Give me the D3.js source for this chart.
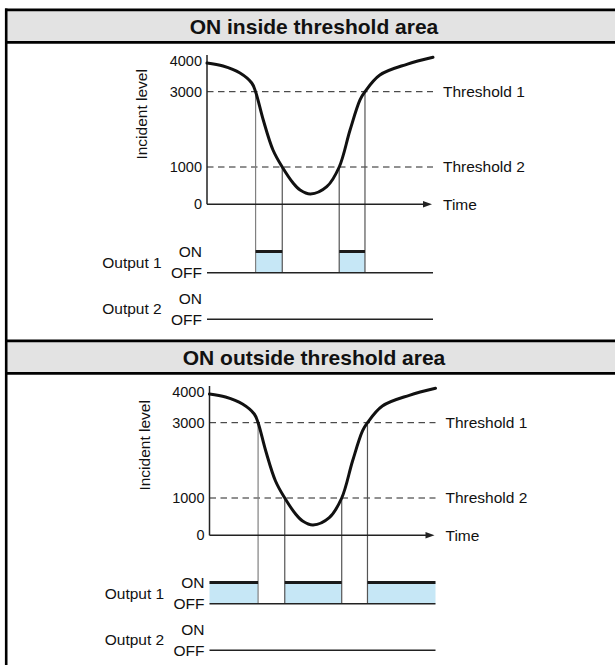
<!DOCTYPE html>
<html><head><meta charset="utf-8">
<script src="https://cdn.jsdelivr.net/npm/d3@7"></script>
<style>
body{margin:0;background:#fff}
svg{display:block}
text{font-family:"Liberation Sans",Arial,Helvetica,sans-serif;fill:#111}
</style></head>
<body>
<script>
// ---- data ----
const panelTitles = ["ON inside threshold area", "ON outside threshold area"];
const yTickValues = [0, 1000, 3000, 4000];
const yTickLabels = ["0", "1000", "3000", "4000"];
const yAxisMax = 4195;
const thresholdValues = [3000, 1000];
const thresholdLabels = ["Threshold 1", "Threshold 2"];
const timeValues  = [0, 7.1, 14.6, 19.8, 21.5, 24.9, 29.2, 33.3, 38.1, 41.2, 45.8, 53.0, 58.5, 63.3, 67.7, 69.9, 76.5, 88.4, 100];
const levelValues = [3935, 3837, 3609, 3283, 3000, 2248, 1452, 1000, 571, 383, 276, 472, 1000, 1983, 2780, 3000, 3544, 3892, 4120];
const crossingTimes  = [21.5, 33.3, 58.5, 69.9];
const crossingLevels = [3000, 1000, 1000, 3000];
const output1On = [
  [[21.5, 33.3], [58.5, 69.9]],
  [[0, 21.5], [33.3, 58.5], [69.9, 100]]
];
const output2On = [[], []];
const outputNames = ["Output 1", "Output 2"];
const stateLabels = ["ON", "OFF"];
const axisLabelY = "Incident level";
const axisLabelX = "Time";

// ---- drawing ----
const W = 615, H = 665;
const svg = d3.select("body").append("svg").attr("width", W).attr("height", H);

const x = d3.scaleLinear().domain([0, 100]).range([207, 433]);
const y = d3.scaleLinear().domain([0, 1000, 3000, 4000]).range([204.3, 167, 91.7, 61]);
// output rows: state 0 = OFF, 1 = ON
const rowY = (row, state) => d3.scaleLinear().domain([0, 1]).range([272.7, 251.5])(state) + row * 46.6;

const panelOffsets = [[0, 0], [2.5, 331]];
const panelOffsetsY = [0, 331];

// frame
panelOffsetsY.forEach((oy, i) => {
  svg.append("rect").attr("x", 6).attr("y", 11 + oy).attr("width", W).attr("height", 30.5).attr("fill", "#e3e3e3");
  svg.append("line").attr("x1", 5).attr("x2", W).attr("y1", 9.8 + oy).attr("y2", 9.8 + oy).attr("stroke", "#000").attr("stroke-width", 2.8);
  svg.append("line").attr("x1", 5).attr("x2", W).attr("y1", 42.4 + oy).attr("y2", 42.4 + oy).attr("stroke", "#000").attr("stroke-width", 2.8);
  svg.append("text").attr("x", 314).attr("y", 33.8 + oy).attr("text-anchor", "middle")
    .attr("font-size", 21).attr("font-weight", "bold").text(panelTitles[i]);
});
svg.append("line").attr("x1", 6.2).attr("x2", 6.2).attr("y1", 8.5).attr("y2", H).attr("stroke", "#000").attr("stroke-width", 2.6);

const line = d3.line().x(d => x(d[0])).y(d => y(d[1])).curve(d3.curveCatmullRom.alpha(0.5));
const curveData = timeValues.map((t, i) => [t, levelValues[i]]);

panelTitles.forEach((title, p) => {
  const g = svg.append("g").attr("transform", `translate(${panelOffsets[p][0]},${panelOffsets[p][1]})`);

  // output 1 blue fills
  output1On[p].forEach(iv => {
    g.append("rect").attr("x", x(iv[0])).attr("width", x(iv[1]) - x(iv[0]))
      .attr("y", rowY(0, 1)).attr("height", rowY(0, 0) - rowY(0, 1))
      .attr("fill", "#c6e7f6");
  });

  // threshold dashed lines
  thresholdValues.forEach((v, i) => {
    g.append("line").attr("x1", x(0)).attr("x2", x(100)).attr("y1", y(v)).attr("y2", y(v))
      .attr("stroke", "#222").attr("stroke-width", 1).attr("stroke-dasharray", "6.5,4.5");
    g.append("text").attr("x", x(100) + 10).attr("y", y(v)).attr("dy", "0.35em")
      .attr("font-size", 15.5).text(thresholdLabels[i]);
  });

  // vertical crossing lines
  crossingTimes.forEach((t, i) => {
    g.append("line").attr("x1", x(t)).attr("x2", x(t)).attr("y1", y(crossingLevels[i])).attr("y2", rowY(0, 0))
      .attr("stroke", i === 0 ? "#808080" : "#555").attr("stroke-width", 1.2);
  });

  // axes
  g.append("line").attr("x1", x(0)).attr("x2", x(0)).attr("y1", y(yAxisMax)).attr("y2", y(0))
    .attr("stroke", "#222").attr("stroke-width", 1.5);
  g.append("line").attr("x1", x(0)).attr("x2", x(100) - 6).attr("y1", y(0)).attr("y2", y(0))
    .attr("stroke", "#222").attr("stroke-width", 1.5);
  g.append("path").attr("d", `M${x(100) - 1},${y(0)} L${x(100) - 10},${y(0) - 3.2} L${x(100) - 10},${y(0) + 3.2} Z`).attr("fill", "#222");
  g.append("text").attr("x", x(100) + 10).attr("y", y(0)).attr("dy", "0.35em").attr("font-size", 15.5).text(axisLabelX);

  yTickValues.forEach((v, i) => {
    g.append("text").attr("x", x(0) - 5).attr("y", y(v)).attr("dy", "0.35em").attr("text-anchor", "end")
      .attr("font-size", 14.5).text(yTickLabels[i]);
  });
  g.append("text").attr("transform", `translate(${x(0) - 65.3},${y(3500) + 38}) rotate(-90)`)
    .attr("text-anchor", "middle").attr("dy", "0.35em").attr("font-size", 15.5).text(axisLabelY);

  // curve
  g.append("path").attr("d", line(curveData)).attr("fill", "none").attr("stroke", "#111")
    .attr("stroke-width", 3).attr("stroke-linecap", "round");

  // outputs
  [output1On[p], output2On[p]].forEach((ivs, r) => {
    g.append("line").attr("x1", x(0)).attr("x2", x(100)).attr("y1", rowY(r, 0)).attr("y2", rowY(r, 0))
      .attr("stroke", "#222").attr("stroke-width", 1.4);
    ivs.forEach(iv => {
      g.append("line").attr("x1", x(iv[0])).attr("x2", x(iv[1])).attr("y1", rowY(r, 1)).attr("y2", rowY(r, 1))
        .attr("stroke", "#1a1a1a").attr("stroke-width", 3);
    });
    g.append("text").attr("x", x(0) - 5).attr("y", rowY(r, 1)).attr("dy", "0.35em").attr("text-anchor", "end")
      .attr("font-size", 15.5).text(stateLabels[0]);
    g.append("text").attr("x", x(0) - 5).attr("y", rowY(r, 0)).attr("dy", "0.35em").attr("text-anchor", "end")
      .attr("font-size", 15.5).text(stateLabels[1]);
    g.append("text").attr("x", x(0) - 75).attr("y", (rowY(r, 0) + rowY(r, 1)) / 2).attr("dy", "0.35em")
      .attr("text-anchor", "middle").attr("font-size", 15.5).text(outputNames[r]);
  });
});
</script>
</body></html>
